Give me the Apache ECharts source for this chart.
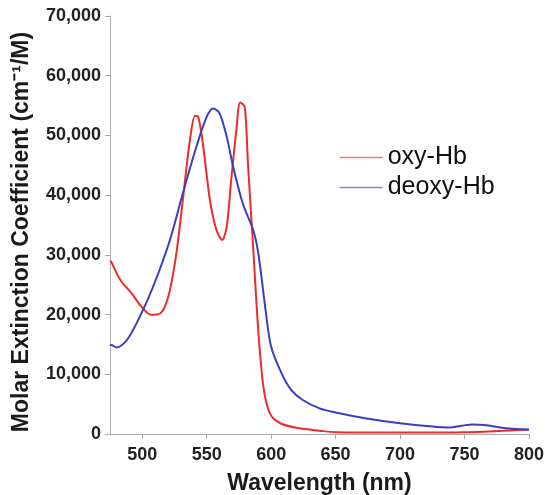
<!DOCTYPE html>
<html><head><meta charset="utf-8">
<script src="https://cdn.jsdelivr.net/npm/echarts@6/dist/echarts.min.js"></script>
<style>html,body{margin:0;padding:0;background:#fff}#c{width:545px;height:495px}</style>
</head><body><div id="c"></div>
<script>
const oxyWavelength = [475,476,483,492,499.5,507,511,514,517.5,521.5,526.5,531.5,537,541,543.5,547,552.5,557.5,562,565.5,569,573,576,579.5,582,586,590,594,599,607,622,637.5,650,700,750,780,800];
const oxyValues = [29000,28800,25800,23500,21300,19950,20000,20200,21300,24100,30300,39200,49200,53300,53100,48700,39200,34200,32500,34700,42500,50900,55500,54800,45300,31400,17400,7900,3450,1800,950,560,300,250,300,550,750];
const deoxyWavelength = [475,476,480,488,498,508.5,521.5,531.5,542,550,555,560,565.5,570.5,578,586,590,596,600,608,615.5,624.5,637.5,650,674,700,725,738,747,756,767,782,800];
const deoxyValues = [14800,14900,14500,15700,19600,24700,32500,40300,48100,53100,54500,53700,49800,44800,38600,34200,30300,20200,14600,10200,7400,5700,4300,3600,2600,1800,1250,1100,1350,1600,1450,950,700];
const xTicks = [500,550,600,650,700,750,800];
const yTicks = [0,10000,20000,30000,40000,50000,60000,70000];

const chart = echarts.init(document.getElementById('c'));
const fmt = v => v.toLocaleString('en-US');
chart.setOption({
  animation:false,
  grid:{left:110,right:16,top:16,bottom:61,containLabel:false,outerBoundsMode:'none'},
  legend:{
    orient:'vertical', left:334, top:140, itemGap:5, itemWidth:43, itemHeight:14,
    textStyle:{fontFamily:'Liberation Sans',fontSize:25,color:'#111'},
    itemStyle:{opacity:0},
    data:[
      {name:'oxy-Hb',lineStyle:{color:'#f47c7c',width:1.3,opacity:1}},
      {name:'deoxy-Hb',lineStyle:{color:'#8587d6',width:1.3,opacity:1}}
    ]
  },
  xAxis:{
    type:'value', min:475, max:800,
    name:'Wavelength (nm)', nameLocation:'middle', nameGap:38,
    nameTextStyle:{fontFamily:'Liberation Sans',fontWeight:'bold',fontSize:23,color:'#1a1a1a'},
    axisLine:{lineStyle:{color:'#aaa',width:1}},
    axisTick:{customValues:xTicks,length:5,lineStyle:{color:'#aaa'}},
    axisLabel:{customValues:xTicks,fontFamily:'Liberation Sans',fontWeight:'bold',fontSize:18,color:'#222',margin:12},
    splitLine:{show:false}
  },
  yAxis:{
    type:'value', min:0, max:70000, interval:10000,
    name:'Molar Extinction Coefficient (cm\u207B\u00B9/M)', nameLocation:'middle', nameGap:77,
    nameTextStyle:{fontFamily:'Liberation Sans',fontWeight:'bold',fontSize:23,color:'#1a1a1a',padding:[0,14,0,0]},
    axisLine:{show:true,lineStyle:{color:'#aaa',width:1}},
    axisTick:{show:true,length:5,lineStyle:{color:'#aaa'}},
    axisLabel:{fontFamily:'Liberation Sans',fontWeight:'bold',fontSize:18,color:'#222',margin:9,formatter:fmt},
    splitLine:{show:false}
  },
  series:[
    {name:'oxy-Hb',type:'line',smooth:0.3,symbol:'none',lineStyle:{color:'#ee2a2a',width:2},itemStyle:{color:'#ee2a2a'},
     data:oxyWavelength.map((w,i)=>[w,oxyValues[i]])},
    {name:'deoxy-Hb',type:'line',smooth:0.3,symbol:'none',lineStyle:{color:'#3a3ec0',width:2},itemStyle:{color:'#3a3ec0'},
     data:deoxyWavelength.map((w,i)=>[w,deoxyValues[i]])}
  ]
});
</script></body></html>
